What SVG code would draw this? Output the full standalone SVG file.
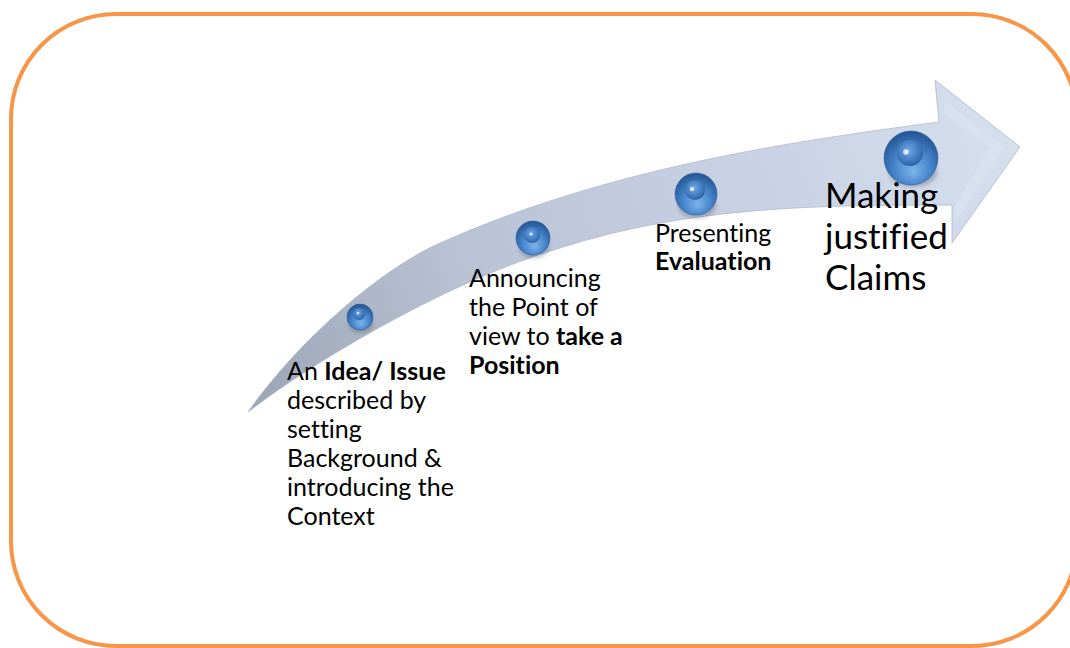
<svg xmlns="http://www.w3.org/2000/svg" width="1070" height="648" viewBox="0 0 1070 648">
  <defs>
    <linearGradient id="arrowGrad" gradientUnits="userSpaceOnUse" x1="248" y1="412" x2="1020" y2="147">
      <stop offset="0" stop-color="#9CA5B5"/>
      <stop offset="0.3" stop-color="#B8C2D4"/>
      <stop offset="0.7" stop-color="#C9D3E5"/>
      <stop offset="1" stop-color="#D6DFEE"/>
    </linearGradient>
    <radialGradient id="beadGrad" cx="0.5" cy="0.62" r="0.62" fx="0.55" fy="0.75">
      <stop offset="0" stop-color="#7DB3EA"/>
      <stop offset="0.55" stop-color="#4684CB"/>
      <stop offset="1" stop-color="#23538F"/>
    </radialGradient>
    <radialGradient id="innerGrad" cx="0.45" cy="0.4" r="0.6">
      <stop offset="0" stop-color="#6FA7E2"/>
      <stop offset="0.7" stop-color="#3F7AC0"/>
      <stop offset="1" stop-color="#2F62A3"/>
    </radialGradient>
    <filter id="blur" x="-50%" y="-50%" width="200%" height="200%">
      <feGaussianBlur stdDeviation="2"/>
    </filter>
    <style>
      .frame { fill: #FFFFFF; stroke: #F79646; stroke-width: 4; }
      .arrow { fill: url(#arrowGrad); stroke: #AEB8CA; stroke-width: 0.8; }
      .bead { fill: url(#beadGrad); stroke: #2A5C9C; stroke-width: 0.6; }
      .inner { fill: url(#innerGrad); }
      .hl { fill: #FFFFFF; opacity: 0.75; }
      .shadow { fill: #404858; opacity: 0.35; filter: url(#blur); }
      .lbl { font-family: Lato, "Liberation Sans", sans-serif; font-size: 25px; fill: #000000; font-variant-ligatures: none; }
      .big { font-family: Lato, "Liberation Sans", sans-serif; font-size: 35px; fill: #000000; font-variant-ligatures: none; }
      .b { font-weight: bold; }
    </style>
  </defs>

  <g id="frame">
    <rect class="frame" x="11" y="14" width="1066" height="632" rx="105" ry="105"/>
  </g>

  <g id="connectors">
    <path class="arrow" d="M 248,412 C 300,338 383,268 440,243 C 600,172 769,144 939,122 L 935,80 L 1020,147 L 952,243 L 952,205 C 820,205 690,206 560,248 C 452,280 320,357 248,412 Z"/>
    <path d="M 944,100 L 1004,147 L 956,222 L 954,208 L 990,147 L 944,114 Z" fill="#DCE4F1" opacity="0.6"/>
  </g>

  <g id="node-1">
    <ellipse class="shadow" cx="361" cy="324" rx="12" ry="9"/>
    <circle class="bead" cx="360" cy="317" r="13"/>
    <circle class="inner" cx="359" cy="314" r="6"/>
    <circle class="hl" cx="358" cy="313" r="1.3"/>
    <text class="lbl" x="287" y="380">An <tspan class="b">Idea/ Issue</tspan></text>
    <text class="lbl" x="287" y="409">described by</text>
    <text class="lbl" x="287" y="438">setting</text>
    <text class="lbl" x="287" y="467">Background &amp;</text>
    <text class="lbl" x="287" y="496">introducing the</text>
    <text class="lbl" x="287" y="525">Context</text>
  </g>

  <g id="node-2">
    <ellipse class="shadow" cx="534" cy="247" rx="15" ry="11"/>
    <circle class="bead" cx="533" cy="238" r="17"/>
    <circle class="inner" cx="532" cy="235" r="8"/>
    <circle class="hl" cx="531" cy="234" r="1.6"/>
    <text class="lbl" x="469" y="287">Announcing</text>
    <text class="lbl" x="469" y="316">the Point of</text>
    <text class="lbl" x="469" y="345">view to <tspan class="b">take a</tspan></text>
    <text class="lbl b" x="469" y="374">Position</text>
  </g>

  <g id="node-3">
    <ellipse class="shadow" cx="697" cy="205" rx="19" ry="13"/>
    <circle class="bead" cx="696" cy="194" r="21"/>
    <circle class="inner" cx="695" cy="190" r="10"/>
    <circle class="hl" cx="692" cy="189" r="2.2"/>
    <text class="lbl" x="655" y="242">Presenting</text>
    <text class="lbl b" x="655" y="270">Evaluation</text>
  </g>

  <g id="node-4">
    <ellipse class="shadow" cx="913" cy="172" rx="24" ry="15"/>
    <circle class="bead" cx="911" cy="158" r="27"/>
    <circle class="inner" cx="910" cy="153" r="13"/>
    <circle class="hl" cx="906" cy="152" r="2.8"/>
    <text class="big" x="825" y="208">Making</text>
    <text class="big" x="825" y="249">justified</text>
    <text class="big" x="825" y="290">Claims</text>
  </g>
</svg>
